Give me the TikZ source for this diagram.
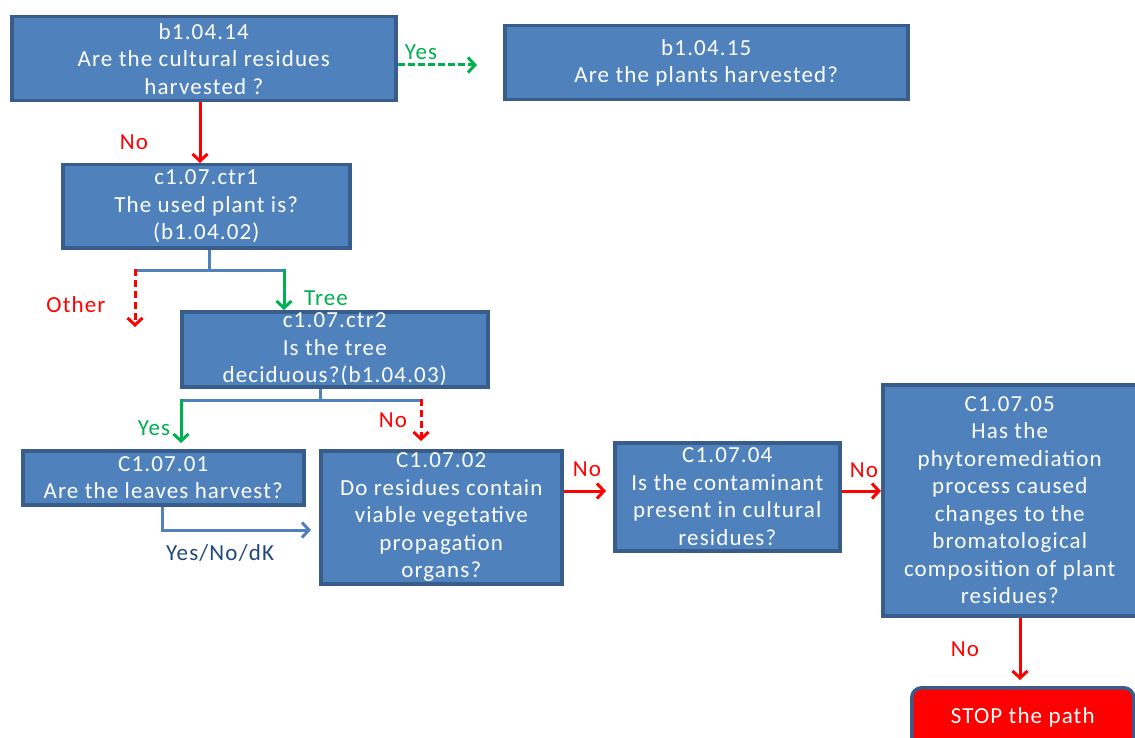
\documentclass[tikz,border=0pt]{standalone}
\usepackage{fontspec}
\setmainfont{Carlito}[LetterSpace=5]
\usetikzlibrary{arrows.meta}
\definecolor{boxfill}{HTML}{4F81BD}
\definecolor{boxline}{HTML}{385D8A}
\definecolor{ygreen}{HTML}{00B050}
\definecolor{nred}{HTML}{FF0000}
\definecolor{lbl}{HTML}{1F497D}
\begin{document}
\begin{tikzpicture}[x=1pt,y=-1pt,
 qbox/.style={draw=boxline, line width=3.5pt, fill=boxfill, text=white, align=center,
   font=\fontsize{23}{27.5}\selectfont, inner sep=0pt, anchor=north west},
 lab/.style={font=\fontsize{23}{26}\selectfont, inner sep=0pt},
 tip/.style={-{Straight Barb[length=7pt,width=15pt,line width=3pt]}},
 greenarr/.style={tip, draw=ygreen, line width=3pt},
 redarr/.style={tip, draw=nred, line width=3pt},
 plain/.style={draw=boxfill, line width=3pt},
 bluearr/.style={tip, draw=boxfill, line width=3pt}]
\useasboundingbox (0,0) rectangle (1135,738);
\clip (0,0) rectangle (1135,738);
\fill[white] (0,0) rectangle (1135,738);

% boxes
\node[qbox, minimum width=384pt, minimum height=84pt] (b14) at (10,15)
  {b1.04.14\\Are the cultural residues\\harvested ?};
\node[qbox, minimum width=403pt, minimum height=74pt] (b15) at (503,24)
  {b1.04.15\\Are the plants harvested?};
\node[qbox, minimum width=287pt, minimum height=83pt] (ctr1) at (61,163)
  {c1.07.ctr1\\The used plant is?\\(b1.04.02)};
\node[qbox, minimum width=306pt, minimum height=75pt] (ctr2) at (180,310)
  {c1.07.ctr2\\Is the tree\\deciduous?(b1.04.03)};
\node[qbox, minimum width=281pt, minimum height=54pt] (c01) at (21,449)
  {C1.07.01\\Are the leaves harvest?};
\node[qbox, minimum width=241pt, minimum height=133pt] (c02) at (319,449)
  {C1.07.02\\Do residues contain\\viable vegetative\\propagation\\organs?};
\node[qbox, minimum width=225pt, minimum height=108pt] (c04) at (613,441)
  {C1.07.04\\Is the contaminant\\present in cultural\\residues?};
\node[qbox, minimum width=262pt, minimum height=231pt] (c05) at (881,383)
  {\hspace*{-8pt}C1.07.05\\\hspace*{-8pt}Has the\\\hspace*{-8pt}phytoremediation\\\hspace*{-8pt}process caused\\\hspace*{-8pt}changes to the\\\hspace*{-8pt}bromatological\\\hspace*{-8pt}composition of plant\\\hspace*{-8pt}residues?};
\node[qbox, fill=nred, rounded corners=10pt, minimum width=222pt, minimum height=60pt] (stop) at (910,686)
  {STOP the path};

% coordinates
\coordinate (yesend) at (477,65);
\coordinate (j1) at (209,270);
\coordinate (oth) at (135,327);
\coordinate (j2) at (320,400);
\coordinate (yesdown) at (181,443);
\coordinate (nodown) at (421,441);
\coordinate (c01turn) at (162,530);

% connectors
\draw[greenarr, dash pattern=on 7pt off 3pt] (b14.east |- yesend) -- (yesend);
\node[lab, text=ygreen] (lyes1) at (421,52) {Yes};

\draw[redarr] (b14.south -| 200,0) -- (ctr1.north -| 200,0);
\node[lab, text=nred] (lno1) at (134,142) {No};

\draw[plain] (ctr1.south -| j1) -- (j1);
\draw[plain] (135,270) -- (284,270);
\draw[greenarr] (284,269) -- (ctr2.north -| 284,0);
\draw[redarr, dash pattern=on 7pt off 4pt] (135,269) -- (oth);
\node[lab, text=ygreen] (ltree) at (326,298) {Tree};
\node[lab, text=nred] (lother) at (76,305) {Other};

\draw[plain] (ctr2.south -| j2) -- (j2);
\draw[plain] (181,400) -- (421,400);
\draw[greenarr] (181,399) -- (yesdown);
\draw[redarr, dash pattern=on 7pt off 4pt] (421,399) -- (nodown);
\node[lab, text=ygreen] (lyes2) at (154,428) {Yes};
\node[lab, text=nred] (lno2) at (393,420) {No};

\draw[bluearr] (c01.south -| c01turn) -- (c01turn) -- (311,530);
\node[lab, text=lbl] (lyn) at (220,553) {Yes/No/dK};

\draw[redarr] (c02.east |- 0,491) -- (606,491);
\node[lab, text=nred] (lno3) at (587,469) {No};
\draw[redarr] (c04.east |- 0,491) -- (c05.west |- 0,491);
\node[lab, text=nred] (lno4) at (864,470) {No};
\draw[redarr] (c05.south -| 1020,0) -- (1020,680);
\node[lab, text=nred] (lno5) at (965,649) {No};
\end{tikzpicture}
\end{document}
